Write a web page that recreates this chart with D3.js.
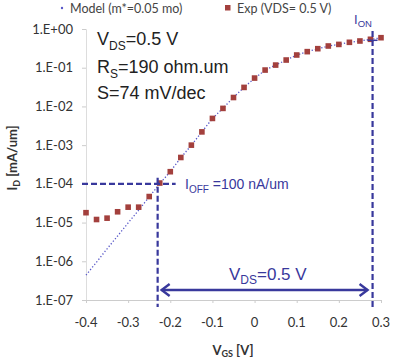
<!DOCTYPE html>
<html>
<head>
<meta charset="utf-8">
<script src="https://cdn.jsdelivr.net/npm/d3@7"></script>
<style>
  body { margin: 0; background: #fff; }
  svg { display: block; }
  .tick-label { font-family: Lato, "Open Sans", sans-serif; font-size: 13px; fill: #333; }
  .note { font-family: "Liberation Sans", Arial, sans-serif; }
</style>
</head>
<body>
<div id="chart"></div>
<script>
// gate voltage sweep (V)
var vgs = [-0.4, -0.375, -0.35, -0.325, -0.3, -0.275, -0.25, -0.225, -0.2, -0.175,
  -0.15, -0.125, -0.1, -0.075, -0.05, -0.025, 0, 0.025, 0.05, 0.075,
  0.1, 0.125, 0.15, 0.175, 0.2, 0.225, 0.25, 0.275, 0.3];
// measured drain current (mA/um)
var expId = [1.8e-5, 1.2e-5, 1.3e-5, 1.9e-5, 2.5e-5, 2.5e-5, 4.7e-5, 1.05e-4, 2.06e-4, 4.8e-4,
  1.0e-3, 2.2e-3, 4.9e-3, 8.9e-3, 1.7e-2, 3.1e-2, 5.4e-2, 8.7e-2, 0.117, 0.158,
  0.213, 0.26, 0.31, 0.364, 0.40, 0.453, 0.49, 0.542, 0.596];
// model curve (m*=0.05 mo)
var modelId = [4.4e-7, 9.5e-7, 2.1e-6, 4.5e-6, 9.8e-6, 2.1e-5, 4.6e-5, 1.0e-4, 2.1e-4, 4.7e-4,
  1.0e-3, 2.2e-3, 4.8e-3, 9.0e-3, 1.7e-2, 3.1e-2, 5.3e-2, 8.5e-2, 0.117, 0.157,
  0.211, 0.258, 0.308, 0.36, 0.40, 0.45, 0.49, 0.54, 0.59];

var xTicks = [-0.4, -0.3, -0.2, -0.1, 0, 0.1, 0.2, 0.3];
var yTicks = [1e0, 1e-1, 1e-2, 1e-3, 1e-4, 1e-5, 1e-6, 1e-7];
var yTickLabels = ['1.E+00', '1.E-01', '1.E-02', '1.E-03', '1.E-04', '1.E-05', '1.E-06', '1.E-07'];

var vOff = -0.23, vOn = 0.28, iOff = 1e-4;

var W = 393, H = 358;
var BLUE = '#38389c';
var RED = '#a3403d';

var svg = d3.select('#chart').append('svg')
  .attr('width', W)
  .attr('height', H);

var x = d3.scaleLinear().domain([-0.4, 0.3]).range([86, 381]);
var y = d3.scaleLog().domain([1e-7, 1]).range([300, 29]);

// y axis with minor log ticks
var yAxis = svg.append('g')
  .attr('transform', 'translate(' + x(-0.4) + ',0)')
  .call(d3.axisLeft(y).ticks(7).tickSize(4).tickFormat(''));
yAxis.select('.domain').attr('stroke', '#ddd');
yAxis.selectAll('.tick line').attr('stroke', '#ccc');

svg.append('g').selectAll('text')
  .data(yTicks)
  .enter()
  .append('text')
  .attr('class', 'tick-label')
  .attr('x', 73)
  .attr('y', function (d) { return y(d) + 4.5; })
  .attr('text-anchor', 'end')
  .text(function (d, i) { return yTickLabels[i]; });

// x axis
var xAxis = svg.append('g')
  .attr('transform', 'translate(0,' + y(1e-7) + ')')
  .call(d3.axisBottom(x).tickValues(xTicks).tickSize(3).tickFormat(''));
xAxis.select('.domain').attr('stroke', '#ccc');
xAxis.selectAll('.tick line').attr('stroke', '#ccc');

svg.append('g').selectAll('text')
  .data(xTicks)
  .enter()
  .append('text')
  .attr('class', 'tick-label')
  .attr('x', function (d) { return x(d); })
  .attr('y', 327)
  .attr('text-anchor', 'middle')
  .text(function (d) { return d === 0 ? '0' : d3.format('.1f')(d).replace('\u2212', '-'); });

// axis titles
var yTitle = svg.append('text')
  .attr('transform', 'translate(17,158) rotate(-90)')
  .attr('text-anchor', 'middle')
  .attr('font-family', 'Lato, sans-serif')
  .attr('font-weight', 'bold')
  .attr('font-size', 13)
  .attr('fill', '#333');
yTitle.append('tspan').text('I');
yTitle.append('tspan').attr('font-size', 9).attr('dy', 3).text('D');
yTitle.append('tspan').attr('dy', -3).text(' [mA/um]');

var xTitle = svg.append('text')
  .attr('x', 233)
  .attr('y', 355)
  .attr('text-anchor', 'middle')
  .attr('font-family', 'Lato, sans-serif')
  .attr('font-weight', 'bold')
  .attr('font-size', 13)
  .attr('fill', '#333');
xTitle.append('tspan').text('V');
xTitle.append('tspan').attr('font-size', 9).attr('dy', 2).text('GS');
xTitle.append('tspan').attr('dy', -2).text(' [V]');

// model line
var line = d3.line()
  .x(function (d, i) { return x(vgs[i]); })
  .y(function (d) { return y(d); })
  .curve(d3.curveMonotoneX);

svg.append('path')
  .datum(modelId)
  .attr('d', line)
  .attr('fill', 'none')
  .attr('stroke', '#5858c8')
  .attr('stroke-width', 1.3)
  .attr('stroke-dasharray', '1.3,2');

// experimental squares
svg.append('g').selectAll('rect')
  .data(expId)
  .enter()
  .append('rect')
  .attr('x', function (d, i) { return x(vgs[i]) - 2.8; })
  .attr('y', function (d) { return y(d) - 2.8; })
  .attr('width', 5.6)
  .attr('height', 5.6)
  .attr('fill', RED);

// annotation lines
var dash = '6,3';
svg.append('line')
  .attr('x1', 82).attr('x2', x(vOff) + 18)
  .attr('y1', y(iOff)).attr('y2', y(iOff))
  .attr('stroke', BLUE).attr('stroke-width', 2.2).attr('stroke-dasharray', dash);
svg.append('line')
  .attr('x1', x(vOff)).attr('x2', x(vOff))
  .attr('y1', y(iOff) - 6).attr('y2', 307)
  .attr('stroke', BLUE).attr('stroke-width', 2.2).attr('stroke-dasharray', dash);
svg.append('line')
  .attr('x1', x(vOn)).attr('x2', x(vOn))
  .attr('y1', 31).attr('y2', 307)
  .attr('stroke', BLUE).attr('stroke-width', 2.2).attr('stroke-dasharray', dash);
svg.append('line')
  .attr('x1', x(vOn) - 5).attr('x2', x(vOn) + 5)
  .attr('y1', y(expId[27]) + 1).attr('y2', y(expId[27]) + 1)
  .attr('stroke', BLUE).attr('stroke-width', 1.5);

// VDS arrow
var arrowY = 290;
svg.append('line')
  .attr('x1', x(vOff) + 4).attr('x2', x(vOn) - 5)
  .attr('y1', arrowY).attr('y2', arrowY)
  .attr('stroke', BLUE).attr('stroke-width', 2.4);
svg.append('path')
  .attr('d', 'M' + (x(vOff) + 12) + ',' + (arrowY - 6) + ' L' + (x(vOff) + 4) + ',' + arrowY + ' L' + (x(vOff) + 12) + ',' + (arrowY + 6))
  .attr('fill', 'none').attr('stroke', BLUE).attr('stroke-width', 2.4);
svg.append('path')
  .attr('d', 'M' + (x(vOn) - 13) + ',' + (arrowY - 6) + ' L' + (x(vOn) - 5) + ',' + arrowY + ' L' + (x(vOn) - 13) + ',' + (arrowY + 6))
  .attr('fill', 'none').attr('stroke', BLUE).attr('stroke-width', 2.4);

// text helper with subscript
function subText(xp, yp, main, sub, rest, size, color, subSize) {
  var t = svg.append('text')
    .attr('class', 'note')
    .attr('x', xp).attr('y', yp)
    .attr('font-size', size)
    .attr('fill', color);
  t.append('tspan').text(main);
  t.append('tspan').attr('font-size', subSize).attr('dy', size * 0.25).text(sub);
  t.append('tspan').attr('dy', -size * 0.25).text(rest);
  return t;
}

subText(97, 45, 'V', 'DS', '=0.5 V', 18, '#222', 12);
subText(97, 73, 'R', 'S', '=190 ohm.um', 18, '#222', 12);
svg.append('text').attr('class', 'note')
  .attr('x', 97).attr('y', 99)
  .attr('font-size', 18).attr('fill', '#222')
  .text('S=74 mV/dec');

subText(185, 189, 'I', 'OFF', ' =100 nA/um', 14, BLUE, 10);
subText(229, 280, 'V', 'DS', '=0.5 V', 17, BLUE, 12);
subText(354, 24, 'I', 'ON', '', 13, BLUE, 9.5);

// legend at the top edge, kept fully inside the frame
svg.append('circle').attr('cx', 62).attr('cy', 8).attr('r', 1.2).attr('fill', '#5858c8');
svg.append('text').attr('x', 70).attr('y', 13)
  .attr('font-family', 'Lato, sans-serif').attr('font-size', 12.5).attr('fill', '#444')
  .text('Model (m*=0.05 mo)');
svg.append('rect').attr('x', 225).attr('y', 5).attr('width', 5.5).attr('height', 5.5).attr('fill', RED);
svg.append('text').attr('x', 237).attr('y', 13)
  .attr('font-family', 'Lato, sans-serif').attr('font-size', 12.5).attr('fill', '#444')
  .text('Exp (VDS= 0.5 V)');
</script>
</body>
</html>
